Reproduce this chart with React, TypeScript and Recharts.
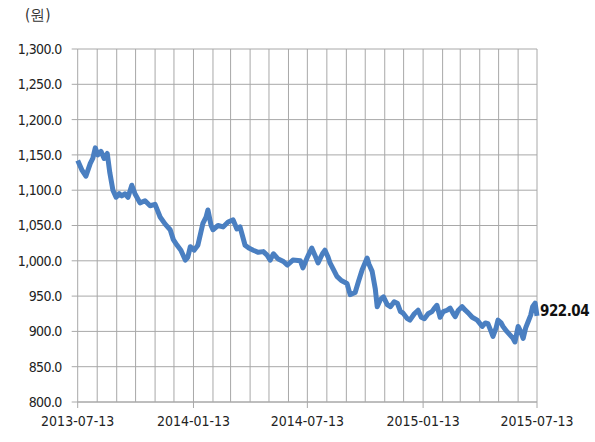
import React from "react";
import { LineChart, Line, XAxis, YAxis, CartesianGrid, LabelList } from "recharts";

const startDate = "2013-07-13";
const dayOffsets = [
  0, 7, 13, 20, 24, 28, 32, 37, 42, 47, 51, 56, 61, 66, 70, 75, 80, 86, 91, 99,
  107, 115, 123, 131, 139, 147, 152, 158, 164, 171, 175, 179, 185, 191, 199, 204, 207, 212, 215, 223,
  231, 239, 247, 253, 258, 266, 272, 279, 287, 295, 301, 306, 311, 318, 327, 333, 342, 354, 358, 365,
  372, 377, 382, 389, 393, 398, 401, 408, 412, 419, 428, 433, 441, 446, 452, 460, 463, 468, 473, 476,
  481, 486, 492, 497, 503, 508, 513, 517, 524, 528, 535, 541, 546, 551, 557, 563, 567, 571, 576, 581,
  587, 592, 597, 600, 605, 611, 616, 621, 627, 635, 643, 648, 652, 657, 660, 665, 668, 673, 676, 682,
  687, 692, 695, 700, 704, 708, 712, 716, 720, 723, 727, 730,
];
const rates = [
  1142, 1128, 1120, 1138, 1145, 1160, 1150, 1155, 1145, 1152, 1125, 1100, 1090, 1095, 1092, 1095, 1090, 1107, 1095, 1082,
  1085, 1078, 1080, 1062, 1052, 1044, 1030, 1022, 1015, 1001, 1005, 1020, 1015, 1022, 1053, 1062, 1072, 1050, 1044, 1050,
  1048, 1055, 1058, 1045, 1048, 1022, 1018, 1015, 1012, 1013, 1008, 1001, 1010, 1003, 999, 994, 1001, 1000, 990, 1005,
  1018, 1008, 997, 1010, 1015, 1005, 997, 985, 978, 972, 968, 952, 955, 970, 987, 1004, 995, 985, 960, 935,
  945, 949, 938, 935, 942, 940, 928, 926, 918, 916, 925, 930, 920, 918, 925, 928, 933, 937, 920, 928,
  930, 933, 925, 921, 930, 935, 930, 926, 920, 916, 907, 912, 911, 900, 893, 905, 916, 912, 907, 900,
  895, 890, 885, 907, 900, 890, 905, 914, 923, 935, 940, 922.04,
];
const tickLabels = ["2013-07-13", "2014-01-13", "2014-07-13", "2015-01-13", "2015-07-13"];
const yTicks = [800, 850, 900, 950, 1000, 1050, 1100, 1150, 1200, 1250, 1300];
const unitLabel = "(원)";

const DAY = 86400000;
const startTs = Date.parse(startDate);
const data = dayOffsets.map((d, i) => ({ t: startTs + d * DAY, v: rates[i] }));
const xTicks = tickLabels.map((s) => Date.parse(s));
const monthGrid: number[] = [];
{
  const s = new Date(startTs);
  const end = Date.parse(tickLabels[tickLabels.length - 1]);
  for (let k = 0; ; k++) {
    const ts = Date.UTC(s.getUTCFullYear(), s.getUTCMonth() + k, s.getUTCDate());
    if (ts > end) break;
    monthGrid.push(ts);
  }
}

const fontFam = "'Liberation Sans Narrow', 'Arial Narrow', 'DejaVu Sans Condensed', sans-serif";

const fmtDate = (t: number) => new Date(t).toISOString().slice(0, 10);
const fmtY = (v: number) =>
  v.toLocaleString("en-US", { minimumFractionDigits: 1, maximumFractionDigits: 1 });

const LastLabel = (props: any) => {
  const { x, y, index, value } = props;
  if (index !== data.length - 1) return null;
  return (
    <text
      x={x + 3}
      y={y - 5}
      dominantBaseline="central"
      textAnchor="start"
      fontFamily={fontFam}
      fontWeight="bold"
      fontSize={15}
      letterSpacing={-0.5}
      fill="#111"
    >
      {Number(value).toFixed(2)}
    </text>
  );
};

export default function App() {
  return (
    <div style={{ position: "absolute", left: 0, top: 0, width: 595, height: 442, background: "#fff" }}>
      <div
        style={{
          position: "absolute",
          left: 25,
          top: 6,
          fontFamily: fontFam,
          fontSize: 15,
          color: "#333",
        }}
      >
        {unitLabel}
      </div>
      <LineChart
        width={595}
        height={442}
        data={data}
        margin={{ top: 49, right: 58, bottom: 10, left: 0 }}
      >
        <CartesianGrid stroke="#a8a8a8" strokeWidth={1} verticalValues={monthGrid} />
        <XAxis
          dataKey="t"
          type="number"
          scale="time"
          domain={[xTicks[0], xTicks[xTicks.length - 1]]}
          ticks={xTicks}
          tickFormatter={fmtDate}
          height={30}
          tickSize={6}
          tickMargin={8}
          stroke="#a8a8a8"
          tick={{ fill: "#222", fontSize: 14, fontFamily: fontFam }}
          interval={0}
        />
        <YAxis
          type="number"
          domain={[800, 1300]}
          ticks={yTicks}
          tickFormatter={fmtY}
          width={77.7}
          tickSize={6}
          tickMargin={10}
          stroke="#a8a8a8"
          axisLine={false}
          tick={{ fill: "#222", fontSize: 14, fontFamily: fontFam, letterSpacing: -0.6 }}
          interval={0}
        />
        <Line
          type="linear"
          dataKey="v"
          stroke="#4a7fc1"
          strokeWidth={5}
          strokeLinejoin="round"
          dot={false}
          isAnimationActive={false}
        >
          <LabelList dataKey="v" content={<LastLabel />} />
        </Line>
      </LineChart>
    </div>
  );
}
